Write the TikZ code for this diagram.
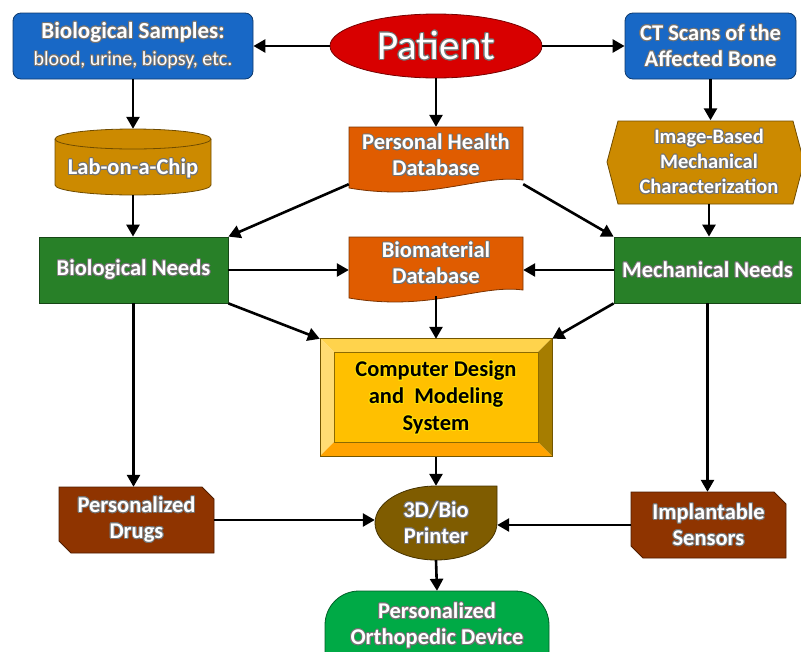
\documentclass[tikz,border=0pt]{standalone}
\usepackage{fontspec}
\setmainfont{Carlito}
\usepackage{contour}
\contourlength{0.9pt}
\contournumber{16}
\usetikzlibrary{arrows.meta,shapes.geometric}
\definecolor{orthoblue}{RGB}{24,104,198}
\definecolor{orthored}{RGB}{216,0,0}
\definecolor{orthoorange}{RGB}{224,92,0}
\definecolor{orthogold}{RGB}{204,138,0}
\definecolor{orthogreen}{RGB}{40,128,40}
\definecolor{orthobrown}{RGB}{143,52,0}
\definecolor{orthoolive}{RGB}{127,92,0}
\definecolor{orthomint}{RGB}{0,170,70}
\definecolor{orthoyellow}{RGB}{255,192,0}
\newcommand{\halo}[1]{\contour{black!55}{#1}}
\newcommand{\sunhalo}[1]{\contour{yellow!80!orange}{#1}}
\tikzset{
	flow/.style={draw=black, line width=2.6pt, -{Triangle[length=12pt,width=13pt]}},
	panel/.style={draw=#1!55!black, fill=#1, line width=0.8pt},
	tag/.style={inner sep=0pt, align=center, text=white, font=\bfseries\fontsize{22.5}{26}\selectfont}
}

\begin{document}
\begin{tikzpicture}[x=1pt,y=-1pt]
		
		\useasboundingbox (0,0) rectangle (801,651);
		\clip (0,0) rectangle (801,651);
		
		% database sheets
		\draw[panel=orthoorange] (349,127) -- (523,127) -- (523,180) .. controls (480,174) and (430,202) .. (349,188) -- cycle;
		\draw[panel=orthoorange] (349,237) -- (523,237) -- (523,290) .. controls (480,284) and (430,312) .. (349,298) -- cycle;
		
		% lab-on-a-chip cylinder
		\draw[panel=orthogold] (55,139) -- (55,185) .. controls (55,190.5) and (90,195) .. (133,195) .. controls (176,195) and (211,190.5) .. (211,185) -- (211,139) .. controls (211,133.5) and (176,129) .. (133,129) .. controls (90,129) and (55,133.5) .. (55,139) -- cycle;
		\draw[draw=orthogold!55!black, line width=0.8pt] (55,139) .. controls (55,144.5) and (90,149) .. (133,149) .. controls (176,149) and (211,144.5) .. (211,139);
		
		% mechanical characterization
		\draw[panel=orthogold] (607,162) -- (618,121) -- (793,121) -- (804,162) -- (793,204) -- (618,204) -- cycle;
		
		% bevelled design box
		\fill[orthoyellow!70!white] (320,338) -- (552,338) -- (538,352) -- (334,352) -- cycle;
		\fill[orthoyellow!55!white] (320,338) -- (334,352) -- (334,442) -- (320,456) -- cycle;
		\fill[orthoyellow!65!black] (552,338) -- (552,456) -- (538,442) -- (538,352) -- cycle;
		\fill[orthoyellow!85!red] (320,456) -- (552,456) -- (538,442) -- (334,442) -- cycle;
		\draw[panel=orthoyellow] (334,352) rectangle (538,442);
		\draw[draw=orthoyellow!45!black, line width=0.8pt] (320,338) rectangle (552,456);
		
		% printer drop
		\draw[panel=orthoolive] (436,486) -- (497,486) -- (497,523) .. controls (497,543.4) and (469.7,560) .. (436,560) .. controls (402.3,560) and (375,543.4) .. (375,523) .. controls (375,502.6) and (402.3,486) .. (436,486) -- cycle;
		
		% snipped boxes
		\draw[panel=orthobrown] (59,487) -- (202,487) -- (214,499) -- (214,553) -- (71,553) -- (59,541) -- cycle;
		\draw[panel=orthobrown] (631,492) -- (774,492) -- (786,504) -- (786,558) -- (643,558) -- (631,546) -- cycle;
		
		% device
		\draw[panel=orthomint, rounded corners=34pt] (325,591) rectangle (549,690);
		
		\node[tag, ellipse, panel=orthored, minimum width=212, minimum height=64, font=\fontsize{41}{44}\selectfont] (patient) at (436,46) {\halo{Patient}};
		\node[tag, panel=orthoblue, rounded corners=8pt, minimum width=240, minimum height=66, font=\bfseries\fontsize{23}{27}\selectfont] (samples) at (133,46) {\halo{Biological Samples:}\\{\mdseries\fontsize{20}{27}\selectfont\halo{blood, urine, biopsy, etc.}}};
		\node[tag, panel=orthoblue, rounded corners=8pt, minimum width=171, minimum height=66] (ctscan) at (710.5,46) {\halo{CT Scans of the}\\\halo{Affected Bone}};
		\node[tag, minimum width=174, minimum height=57] (phd) at (436,155.5) {\halo{Personal Health}\\\halo{Database}};
		\node[tag, minimum width=156, minimum height=66] (chip) at (133,162) {\raisebox{-7pt}[\height][\depth]{\halo{Lab-on-a-Chip}}};
		\node[tag, minimum width=180, minimum height=83, font=\bfseries\fontsize{20.5}{25}\selectfont] (imgmech) at (709,162) {\halo{Image-Based}\\\halo{Mechanical}\\\halo{Characterization}};
		\node[tag, panel=orthogreen, minimum width=189, minimum height=66] (bioneeds) at (133.5,270) {\halo{Biological Needs}};
		\node[tag, panel=orthogreen, minimum width=187, minimum height=66] (mechneeds) at (707.5,270) {\halo{Mechanical Needs}};
		\node[tag, minimum width=174, minimum height=53] (biomat) at (436,263.5) {\halo{Biomaterial}\\\halo{Database}};
		\node[tag, text=black, minimum width=232, minimum height=118, font=\bfseries\fontsize{22.5}{27}\selectfont] (cad) at (436,398) {\sunhalo{Computer Design}\\\sunhalo{and~ Modeling}\\\sunhalo{System}};
		\node[tag, minimum width=122, minimum height=74] (printer) at (436,523) {\halo{3D/Bio}\\\halo{Printer}};
		\node[tag, minimum width=155, minimum height=66] (drugs) at (136.5,520) {\halo{Personalized}\\\halo{Drugs}};
		\node[tag, minimum width=155, minimum height=66] (sensors) at (708.5,525) {\halo{Implantable}\\\halo{Sensors}};
		\node[tag, minimum width=224, minimum height=70] (device) at (437,626) {\halo{Personalized}\\\halo{Orthopedic Device}};
		
		\draw[flow] (patient.west) -- (samples.east);
		\draw[flow] (patient.east) -- (ctscan.west);
		\draw[flow] (patient.south) -- (phd.north);
		\draw[flow] (samples.south) -- (chip.north);
		\draw[flow] (ctscan.south) -- (ctscan.south |- imgmech.north);
		\draw[flow] (chip.south) -- (chip.south |- bioneeds.north);
		\draw[flow] (imgmech.south) -- (imgmech.south |- mechneeds.north);
		\draw[flow] (phd.south west) -- (bioneeds.north east);
		\draw[flow] (phd.south east) -- (mechneeds.north west);
		\draw[flow] (bioneeds.east) -- (bioneeds.east -| biomat.west);
		\draw[flow] (mechneeds.west) -- (mechneeds.west -| biomat.east);
		\draw[flow] ([yshift=-6pt]biomat.south) -- (cad.north);
		\draw[flow] (bioneeds.south east) -- (cad.north west);
		\draw[flow] (mechneeds.south west) -- (cad.north east);
		\draw[flow] (cad.south) -- (printer.north);
		\draw[flow] (bioneeds.south) -- (bioneeds.south |- drugs.north);
		\draw[flow] (mechneeds.south) -- (mechneeds.south |- sensors.north);
		\draw[flow] (drugs.east) -- (drugs.east -| printer.west);
		\draw[flow] (sensors.west) -- (sensors.west -| printer.east);
		\draw[flow] (printer.south) -- (device.north);
		
	\end{tikzpicture}
\end{document}
